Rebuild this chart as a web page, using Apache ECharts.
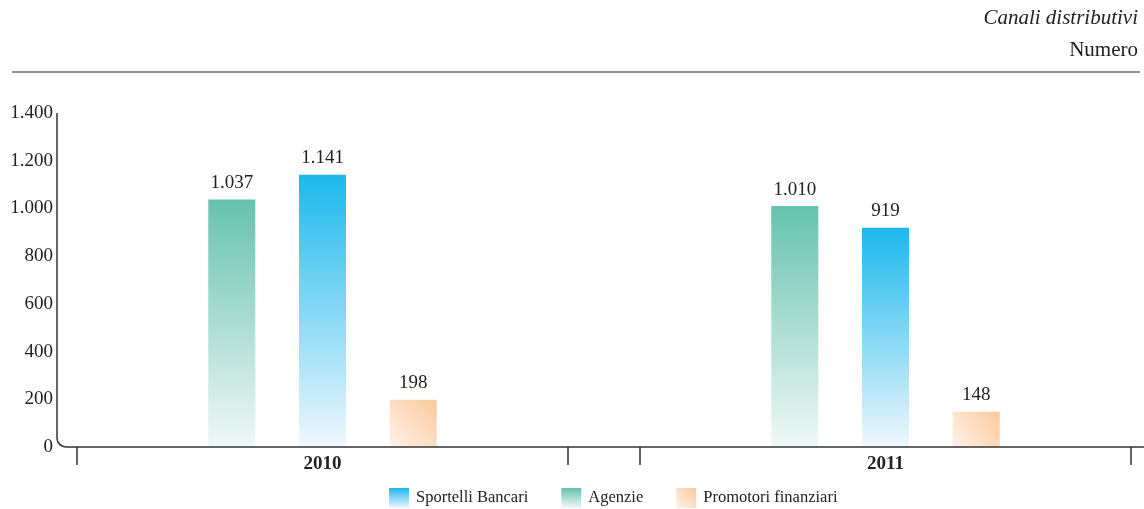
<!DOCTYPE html>
<html>
<head>
<meta charset="utf-8">
<script src="https://cdn.jsdelivr.net/npm/echarts@6/dist/echarts.min.js"></script>
<style>html,body{margin:0;padding:0;background:#fff}#c{width:1144px;height:509px}</style>
</head>
<body>
<div id="c"></div>
<script>
// ---- data ----
const years = ['2010', '2011'];
const sportelliBancari = [1141, 919];
const agenzie = [1037, 1010];
const promotoriFinanziari = [198, 148];
const seriesNames = ['Sportelli Bancari', 'Agenzie', 'Promotori finanziari'];
const yMin = 0, yMax = 1400, yStep = 200;

// ---- layout / style ----
const FONT = '"Liberation Serif", "DejaVu Serif", serif';
const G_TOP = 113, G_BOTTOM = 62, G_W = 491;
const G_LEFT = [77, 640];
const Y_AXIS_X = 57;
const fmt = v => String(v).replace(/\B(?=(\d{3})+(?!\d))/g, '.');

const colBlue = {type:'linear',x:0,y:0,x2:0,y2:1,colorStops:[{offset:0,color:'#1cb8ec'},{offset:1,color:'#f0f8fd'}]};
const colGreen = {type:'linear',x:0,y:0,x2:0,y2:1,colorStops:[{offset:0,color:'#66c2b0'},{offset:1,color:'#f1f8f6'}]};
const colOrange = {type:'linear',x:1,y:0,x2:0,y2:1,colorStops:[{offset:0,color:'#fcc99a'},{offset:1,color:'#fff3ea'}]};

const chart = echarts.init(document.getElementById('c'), null, {renderer:'canvas'});

const grids = G_LEFT.map(l => ({left:l, width:G_W, top:G_TOP, bottom:G_BOTTOM}));
const xAxes = years.map((y, i) => ({
  type:'category', gridIndex:i, data:[y], boundaryGap:true,
  axisLine:{show:false},
  axisTick:{show:true, length:18, lineStyle:{color:'#333', width:1.5}},
  axisLabel:{margin:8, fontFamily:FONT, fontSize:19, fontWeight:'bold', color:'#222'}
}));
const yAxes = years.map((y, i) => ({
  type:'value', gridIndex:i, min:yMin, max:yMax, interval:yStep,
  show: i === 0, offset: G_LEFT[0] - Y_AXIS_X,
  axisLine:{show:false}, axisTick:{show:false}, splitLine:{show:false},
  axisLabel:{margin:4, fontFamily:FONT, fontSize:19, color:'#222', formatter:fmt}
}));

const labelCfg = {show:true, position:'top', distance:7, fontFamily:FONT, fontSize:19, color:'#222', formatter:p => fmt(p.value)};
const series = [];
years.forEach((y, i) => {
  [[seriesNames[1], agenzie, colGreen], [seriesNames[0], sportelliBancari, colBlue], [seriesNames[2], promotoriFinanziari, colOrange]]
    .forEach(([name, arr, col]) => {
      series.push({
        name, type:'bar', xAxisIndex:i, yAxisIndex:i, data:[arr[i]],
        barWidth:47, barGap:'93%', itemStyle:{color:col}, label:labelCfg,
        emphasis:{disabled:true}
      });
    });
});

const headerGraphics = [
  {type:'text', right:6, top:8, style:{text:'Canali distributivi', font:'italic 21px ' + FONT, fill:'#222'}},
  {type:'text', right:6, top:40, style:{text:'Numero', font:'21px ' + FONT, fill:'#222'}},
  {type:'line', shape:{x1:12, y1:72, x2:1140, y2:72}, style:{stroke:'#666', lineWidth:1.5}}
];

chart.setOption({
  animation:false,
  grid:grids, xAxis:xAxes, yAxis:yAxes, series,
  legend:{
    data:seriesNames, top:483, left:384, itemWidth:20, itemHeight:20, itemGap:33,
    icon:'rect', textStyle:{fontFamily:FONT, fontSize:16.5, color:'#222', padding:[0,0,0,2]}, selectedMode:false
  },
  graphic:headerGraphics
});

// frame with rounded corner, derived from axis scale
const yTop = chart.convertToPixel({yAxisIndex:0}, yMax);
const yBot = chart.convertToPixel({yAxisIndex:0}, yMin);
const r = 9;
const frameStyle = {stroke:'#333', lineWidth:1.5, fill:null};
chart.setOption({graphic: headerGraphics.concat([
  {type:'line', z:10, shape:{x1:Y_AXIS_X, y1:yTop, x2:Y_AXIS_X, y2:yBot - r}, style:frameStyle},
  {type:'arc', z:10, shape:{cx:Y_AXIS_X + r, cy:yBot - r, r:r, startAngle:Math.PI/2, endAngle:Math.PI, clockwise:true}, style:frameStyle},
  {type:'line', z:10, shape:{x1:Y_AXIS_X + r, y1:yBot, x2:1144, y2:yBot}, style:frameStyle}
])});
</script>
</body>
</html>
